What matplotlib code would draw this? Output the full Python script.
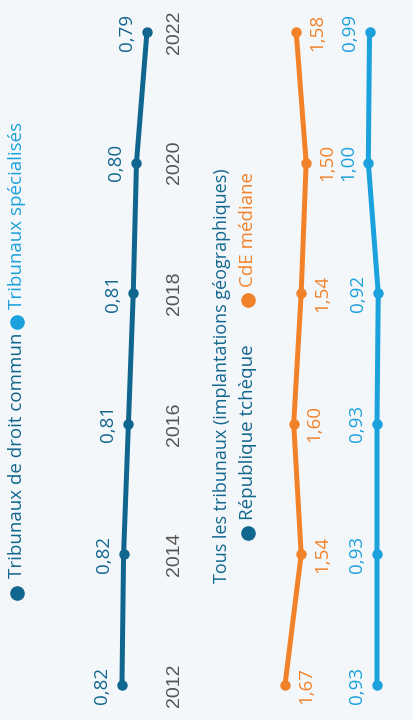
import matplotlib
matplotlib.use("Agg")
import matplotlib.pyplot as plt
from matplotlib.lines import Line2D

# data
years = [2012, 2014, 2016, 2018, 2020, 2022]
droit_commun = [0.822, 0.820, 0.814, 0.808, 0.804, 0.791]
republique_tcheque = [0.93, 0.93, 0.93, 0.92, 1.00, 0.99]
cde_mediane = [1.67, 1.54, 1.60, 1.54, 1.50, 1.58]

dark = '#11668f'
light = '#1ba1dc'
orange = '#f2822a'
grey = '#555555'
bg = '#f4f7f9'

W, H, DPI = 414, 720, 100
plt.rcParams['font.family'] = ['Open Sans', 'DejaVu Sans']

fig = plt.figure(figsize=(W / DPI, H / DPI), dpi=DPI, facecolor=bg)

def fx(x):
    return x / W

def fy(y):
    return 1 - y / H

# year axis: 2012 at y=685px, 65.3px per year
ylim = (2012 - (H - 685) / 65.3, 2012 + 685 / 65.3)

# ---- panel 1 (tribunaux de droit commun)
ax1 = fig.add_axes([0, 0, fx(175), 1])
k1, a1 = 806, 784.5
ax1.set_xlim(a1 / k1, (a1 - 175) / k1)
ax1.set_ylim(*ylim)
ax1.plot(droit_commun, years, color=dark, lw=3.6, marker='o', ms=6.5, solid_capstyle='round')
for v, yr in zip(droit_commun, years):
    ax1.annotate(f"{v:.2f}".replace('.', ','), (v, yr), xytext=(-20, 0), textcoords='offset pixels',
                 rotation=90, ha='center', va='center', color=dark, fontsize=13.5)
ax1.axis('off')

# ---- panel 2 (tous les tribunaux)
ax2 = fig.add_axes([fx(190), 0, 1 - fx(190), 1])
k2, a2 = 124.3, 492.6
ax2.set_xlim((a2 - 190) / k2, (a2 - 414) / k2)
ax2.set_ylim(*ylim)
ax2.plot(cde_mediane, years, color=orange, lw=3.6, marker='o', ms=6.5, solid_capstyle='round')
ax2.plot(republique_tcheque, years, color=light, lw=3.6, marker='o', ms=6.5, solid_capstyle='round')
for v, yr in zip(cde_mediane, years):
    ax2.annotate(f"{v:.2f}".replace('.', ','), (v, yr), xytext=(21, 0), textcoords='offset pixels',
                 rotation=90, ha='center', va='center', color=orange, fontsize=13.5)
for v, yr in zip(republique_tcheque, years):
    ax2.annotate(f"{v:.2f}".replace('.', ','), (v, yr), xytext=(-20, 0), textcoords='offset pixels',
                 rotation=90, ha='center', va='center', color=light, fontsize=13.5)
ax2.set_yticks(years)
ax2.set_yticklabels([str(y) for y in years], rotation=90, va='center', color=grey, fontsize=14,
                    family=['Liberation Sans', 'DejaVu Sans'])
ax2.tick_params(axis='y', length=0, pad=5)
ax2.tick_params(axis='x', bottom=False, labelbottom=False)
for s in ax2.spines.values():
    s.set_visible(False)
ax2.set_facecolor('none')

# ---- titles and legends
def legend_item(x, y_dot, y_text, label, dot_color, text_color):
    fig.add_artist(Line2D([fx(x)], [fy(y_dot)], marker='o', ms=9.5, color=dot_color,
                          transform=fig.transFigure))
    fig.text(fx(x), fy(y_text), label, rotation=90, ha='center', va='bottom',
             color=text_color, fontsize=13.5)

legend_item(17, 593, 578, 'Tribunaux de droit commun', dark, dark)
legend_item(17, 322, 309, 'Tribunaux spécialisés', light, light)

fig.text(fx(222), fy(583), 'Tous les tribunaux (implantations géographiques)', rotation=90,
         ha='center', va='bottom', color=dark, fontsize=13)
legend_item(248, 533, 520, 'République tchèque', dark, dark)
legend_item(248, 300, 287, 'CdE médiane', orange, orange)

fig.savefig('out.png', dpi=DPI, facecolor=bg)
